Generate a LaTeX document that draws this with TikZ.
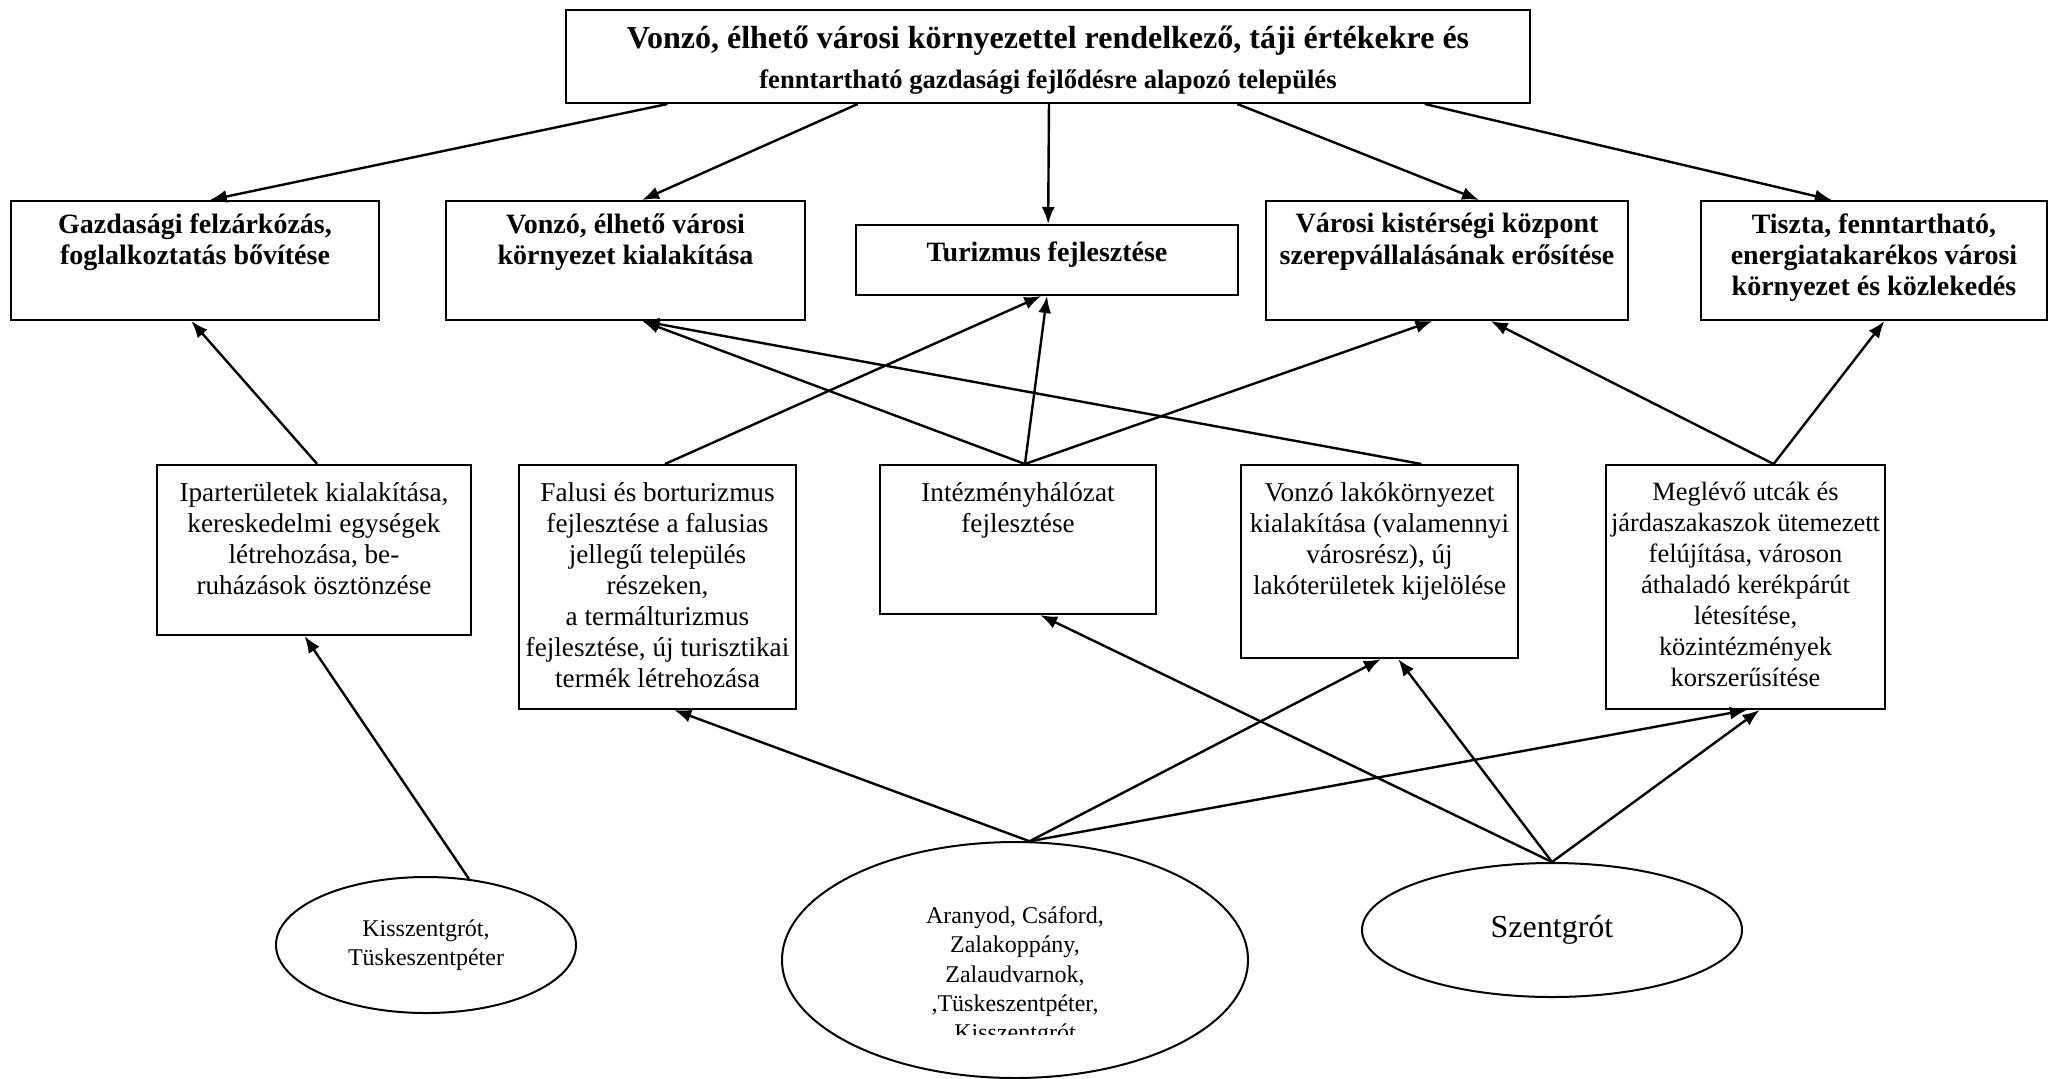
\documentclass[tikz,border=0pt]{standalone}
\usepackage{fontspec}
\setmainfont{Liberation Serif}
\usetikzlibrary{arrows.meta,calc,shapes.geometric}
\begin{document}
\begin{tikzpicture}[x=0.5pt,y=-0.5pt,
  box/.style={draw,line width=1pt,rectangle,inner sep=0pt,anchor=north west},
  oval/.style={draw,line width=1pt,ellipse,inner sep=0pt,align=center,font=\fontsize{12}{14.6}\selectfont},
  ttl/.style={anchor=north,align=center,inner sep=0pt,font=\fontsize{14}{15.7}\selectfont\bfseries},
  txt/.style={anchor=north,align=center,inner sep=0pt,font=\fontsize{13.6}{15.5}\selectfont},
  otxt/.style={anchor=north,align=center,inner sep=0pt,font=\fontsize{12}{14.7}\selectfont},
  arr/.style={-{Latex[length=8.5pt,width=6.5pt]},line width=1.2pt},
]
\useasboundingbox (0,0) rectangle (2051,1078);

% top box
\node[box,minimum width=482pt,minimum height=46.5pt] (top) at (565,9) {};
\node[anchor=north,inner sep=0pt,font=\fontsize{16}{18}\selectfont\bfseries] (topA) at ($(top.north)+(0,17)$) {Vonzó, élhető városi környezettel rendelkező, táji értékekre és};
\node[anchor=north,inner sep=0pt,font=\fontsize{13.3}{15}\selectfont\bfseries] (topB) at ($(top.north)+(0,60)$) {fenntartható gazdasági fejlődésre alapozó település};

% level 2
\node[box,minimum width=184pt,minimum height=59.5pt] (gazd) at (10,200) {};
\node[ttl] (gazdT) at ($(gazd.north)+(0,13)$) {Gazdasági felzárkózás,\\foglalkoztatás bővítése};
\node[box,minimum width=179.5pt,minimum height=59.5pt] (vonzo) at (445,200) {};
\node[ttl] (vonzoT) at ($(vonzo.north)+(0,13)$) {Vonzó, élhető városi\\környezet kialakítása};
\node[box,minimum width=191pt,minimum height=35pt] (turiz) at (855,224) {};
\node[ttl] (turizT) at ($(turiz.north)+(0,17)$) {Turizmus fejlesztése};
\node[box,minimum width=181pt,minimum height=59.5pt] (varosi) at (1265,200) {};
\node[ttl] (varosiT) at ($(varosi.north)+(0,13)$) {Városi kistérségi központ\\szerepvállalásának erősítése};
\node[box,minimum width=173pt,minimum height=59.5pt] (tiszta) at (1700,200) {};
\node[ttl] (tisztaT) at ($(tiszta.north)+(0,13)$) {Tiszta, fenntartható,\\energiatakarékos városi\\környezet és közlekedés};

% level 3
\node[box,minimum width=157pt,minimum height=85pt] (ipar) at (156,464) {};
\node[txt] (iparT) at ($(ipar.north)+(0,18)$) {Iparterületek kialakítása,\\kereskedelmi egységek\\létrehozása, be-\\ruházások ösztönzése};
\node[box,minimum width=138.5pt,minimum height=122pt] (falusi) at (518,464) {};
\node[txt] (falusiT) at ($(falusi.north)+(0,18)$) {Falusi és borturizmus\\fejlesztése a falusias\\jellegű település\\részeken,\\a termálturizmus\\fejlesztése, új turisztikai\\termék létrehozása};
\node[box,minimum width=138pt,minimum height=74.5pt] (intez) at (879,464) {};
\node[txt] (intezT) at ($(intez.north)+(0,18)$) {Intézményhálózat\\fejlesztése};
\node[box,minimum width=138.5pt,minimum height=96.5pt] (lako) at (1240,464) {};
\node[txt] (lakoT) at ($(lako.north)+(0,18)$) {Vonzó lakókörnyezet\\kialakítása (valamennyi\\városrész), új\\lakóterületek kijelölése};
\node[box,minimum width=139.5pt,minimum height=122pt] (megl) at (1605,464) {};
\node[txt,font=\fontsize{13.2}{15.5}\selectfont] (meglT) at ($(megl.north)+(0,18)$) {Meglévő utcák és\\járdaszakaszok ütemezett\\felújítása, városon\\áthaladó kerékpárút\\létesítése,\\közintézmények\\korszerűsítése};

% ellipses
\node[oval,minimum width=150pt,minimum height=68pt] (kiss) at (426,945) {Kisszentgrót,\\Tüskeszentpéter};
\node[oval,minimum width=233pt,minimum height=118pt] (aran) at (1015,960) {};
\begin{scope}
  \clip (782,840) rectangle (1249,1034);
  \node[otxt] (aranT) at (1015,906) {Aranyod, Csáford,\\Zalakoppány,\\Zalaudvarnok,\\,Tüskeszentpéter,\\Kisszentgrót};
\end{scope}
\node[oval,minimum width=190pt,minimum height=67pt,font=\fontsize{16}{18}\selectfont] (szent) at (1552,930) {Szentgrót};

% top -> level 2
\draw[arr] ($(top.south west)!0.106!(top.south east)$) -- ($(gazd.north west)!0.54!(gazd.north east)$);
\draw[arr] ($(top.south west)!0.303!(top.south east)$) -- ($(vonzo.north west)!0.546!(vonzo.north east)$);
\draw[arr] ($(top.south west)!0.501!(top.south east)$) -- ($(turiz.north west)!0.503!(turiz.north east)$);
\draw[arr] ($(top.south west)!0.696!(top.south east)$) -- ($(varosi.north west)!0.588!(varosi.north east)$);
\draw[arr] ($(top.south west)!0.89!(top.south east)$) -- ($(tiszta.north west)!0.379!(tiszta.north east)$);

% level 3 -> level 2
\draw[arr] ($(ipar.north west)!0.51!(ipar.north east)$) -- ($(gazd.south west)!0.49!(gazd.south east)$);
\draw[arr] ($(falusi.north west)!0.527!(falusi.north east)$) -- ($(turiz.south west)!0.485!(turiz.south east)$);
\draw[arr] ($(intez.north west)!0.525!(intez.north east)$) -- ($(turiz.south west)!0.5!(turiz.south east)$);
\draw[arr] ($(intez.north west)!0.525!(intez.north east)$) -- ($(vonzo.south west)!0.546!(vonzo.south east)$);
\draw[arr] ($(intez.north west)!0.525!(intez.north east)$) -- ($(varosi.south west)!0.46!(varosi.south east)$);
\draw[arr] ($(lako.north west)!0.65!(lako.north east)$) -- ($(vonzo.south west)!0.546!(vonzo.south east)$);
\draw[arr] ($(megl.north west)!0.6!(megl.north east)$) -- ($(varosi.south west)!0.62!(varosi.south east)$);
\draw[arr] ($(megl.north west)!0.6!(megl.north east)$) -- ($(tiszta.south west)!0.53!(tiszta.south east)$);

% ellipses -> level 3
\draw[arr] (kiss.57) -- ($(ipar.south west)!0.47!(ipar.south east)$);
\draw[arr] (aran.83) -- ($(falusi.south west)!0.56!(falusi.south east)$);
\draw[arr] (aran.83) -- ($(lako.south west)!0.505!(lako.south east)$);
\draw[arr] (aran.83) -- ($(megl.south west)!0.505!(megl.south east)$);
\draw[arr] (szent.north) -- ($(intez.south west)!0.58!(intez.south east)$);
\draw[arr] (szent.north) -- ($(lako.south west)!0.567!(lako.south east)$);
\draw[arr] (szent.north) -- ($(megl.south west)!0.55!(megl.south east)$);
\end{tikzpicture}
\end{document}
